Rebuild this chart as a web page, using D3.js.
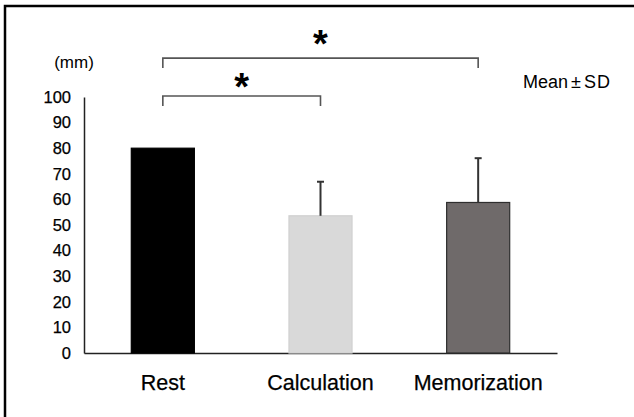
<!DOCTYPE html>
<html>
<head>
<meta charset="utf-8" />
<title>Bar chart mean SD</title>
<script src="https://d3js.org/d3.v7.min.js"></script>
<style>
    body { margin: 0; background: #fff; }
    text { font-family: "Liberation Sans", Arial, sans-serif; fill: #000; }
</style>
</head>
<body>
<div id="chart"></div>
<script>
    // data
    var categories = ["Rest", "Calculation", "Memorization"];
    var means = [80, 53.6, 58.8];
    var sds = [0, 13.3, 17.3];
    var fills = ["#000000", "#d9d9d9", "#6f6a6a"];
    var strokes = ["#000000", "#d0d0d0", "#2e2e2e"];
    var yTicks = [0, 10, 20, 30, 40, 50, 60, 70, 80, 90, 100];
    // significance brackets: [from, to, level in mm]
    var brackets = [["Rest", "Calculation", 100.4], ["Rest", "Memorization", 115.2]];

    var width = 634, height = 417;
    var starGap = [12, 18]; // star centre above bracket line, px

    var svg = d3.select("#chart").append("svg")
        .attr("width", width)
        .attr("height", height);

    // frame round the figure
    svg.append("path")
        .attr("d", "M5,420 L5,6 L640,6")
        .attr("fill", "none")
        .attr("stroke", "#000")
        .attr("stroke-width", 2.5);

    var x = d3.scaleBand()
        .domain(categories)
        .range([84, 557])
        .paddingInner(0.6)
        .paddingOuter(0.3);

    var y = d3.scaleLinear()
        .domain([0, 100])
        .range([353, 97]);

    // y axis
    var yAxis = svg.append("g")
        .attr("transform", "translate(84,0)")
        .call(d3.axisLeft(y).tickValues(yTicks).tickSize(0).tickPadding(13));
    yAxis.select(".domain").attr("stroke", "#222").attr("stroke-width", 1.5);
    yAxis.selectAll("text")
        .style("font-size", "16.5px")
        .style("font-family", "'Liberation Sans', Arial, sans-serif")
        .attr("fill", "#000")
        .attr("stroke", "#000")
        .attr("stroke-width", 0.25);

    // x axis
    var xAxis = svg.append("g")
        .attr("transform", "translate(0,353)")
        .call(d3.axisBottom(x).tickSize(0).tickPadding(22));
    xAxis.select(".domain").attr("stroke", "#222").attr("stroke-width", 1.5);
    xAxis.selectAll("text")
        .style("font-size", "21.5px")
        .style("font-family", "'Liberation Sans', Arial, sans-serif")
        .attr("fill", "#000")
        .attr("stroke", "#000")
        .attr("stroke-width", 0.25);

    svg.append("text")
        .attr("x", 74)
        .attr("y", 68)
        .attr("text-anchor", "middle")
        .style("font-size", "17px")
        .text("(mm)");

    // bars
    svg.selectAll(".bar")
        .data(categories)
        .enter().append("rect")
        .attr("class", "bar")
        .attr("x", function (d) { return x(d); })
        .attr("width", x.bandwidth())
        .attr("y", function (d, i) { return y(means[i]); })
        .attr("height", function (d, i) { return y(0) - y(means[i]); })
        .attr("fill", function (d, i) { return fills[i]; })
        .attr("stroke", function (d, i) { return strokes[i]; })
        .attr("stroke-width", 1.2);

    // error bars (upper half only)
    var err = svg.selectAll(".err")
        .data(categories.filter(function (d, i) { return sds[i] > 0; }))
        .enter().append("g")
        .attr("class", "err")
        .attr("stroke", "#333")
        .attr("stroke-width", 2);
    err.append("line")
        .attr("x1", function (d) { return x(d) + x.bandwidth() / 2; })
        .attr("x2", function (d) { return x(d) + x.bandwidth() / 2; })
        .attr("y1", function (d) { var i = categories.indexOf(d); return y(means[i]); })
        .attr("y2", function (d) { var i = categories.indexOf(d); return y(means[i] + sds[i]); });
    err.append("line")
        .attr("x1", function (d) { return x(d) + x.bandwidth() / 2 - 3.5; })
        .attr("x2", function (d) { return x(d) + x.bandwidth() / 2 + 3.5; })
        .attr("y1", function (d) { var i = categories.indexOf(d); return y(means[i] + sds[i]); })
        .attr("y2", function (d) { var i = categories.indexOf(d); return y(means[i] + sds[i]); });

    // brackets with stars
    var br = svg.selectAll(".bracket")
        .data(brackets)
        .enter().append("g")
        .attr("class", "bracket");
    br.append("path")
        .attr("d", function (d) {
            var x1 = x(d[0]) + x.bandwidth() / 2,
                x2 = x(d[1]) + x.bandwidth() / 2,
                yy = y(d[2]);
            return "M" + x1 + "," + (yy + 10) + "V" + yy + "H" + x2 + "V" + (yy + 10);
        })
        .attr("fill", "none")
        .attr("stroke", "#555")
        .attr("stroke-width", 1.6);
    br.append("text")
        .attr("x", function (d) { return (x(d[0]) + x(d[1])) / 2 + x.bandwidth() / 2; })
        .attr("y", function (d, i) { return y(d[2]) - starGap[i] + 16.5; })
        .attr("text-anchor", "middle")
        .style("font-size", "38px")
        .style("font-weight", "bold")
        .text("*");

    // legend note
    var note = svg.append("text")
        .attr("x", 523)
        .attr("y", 88)
        .style("font-size", "18px");
    note.append("tspan").text("Mean");
    note.append("tspan").attr("dx", 3).text("±");
    note.append("tspan").attr("dx", 3).style("letter-spacing", "1px").text("SD");
</script>
</body>
</html>
